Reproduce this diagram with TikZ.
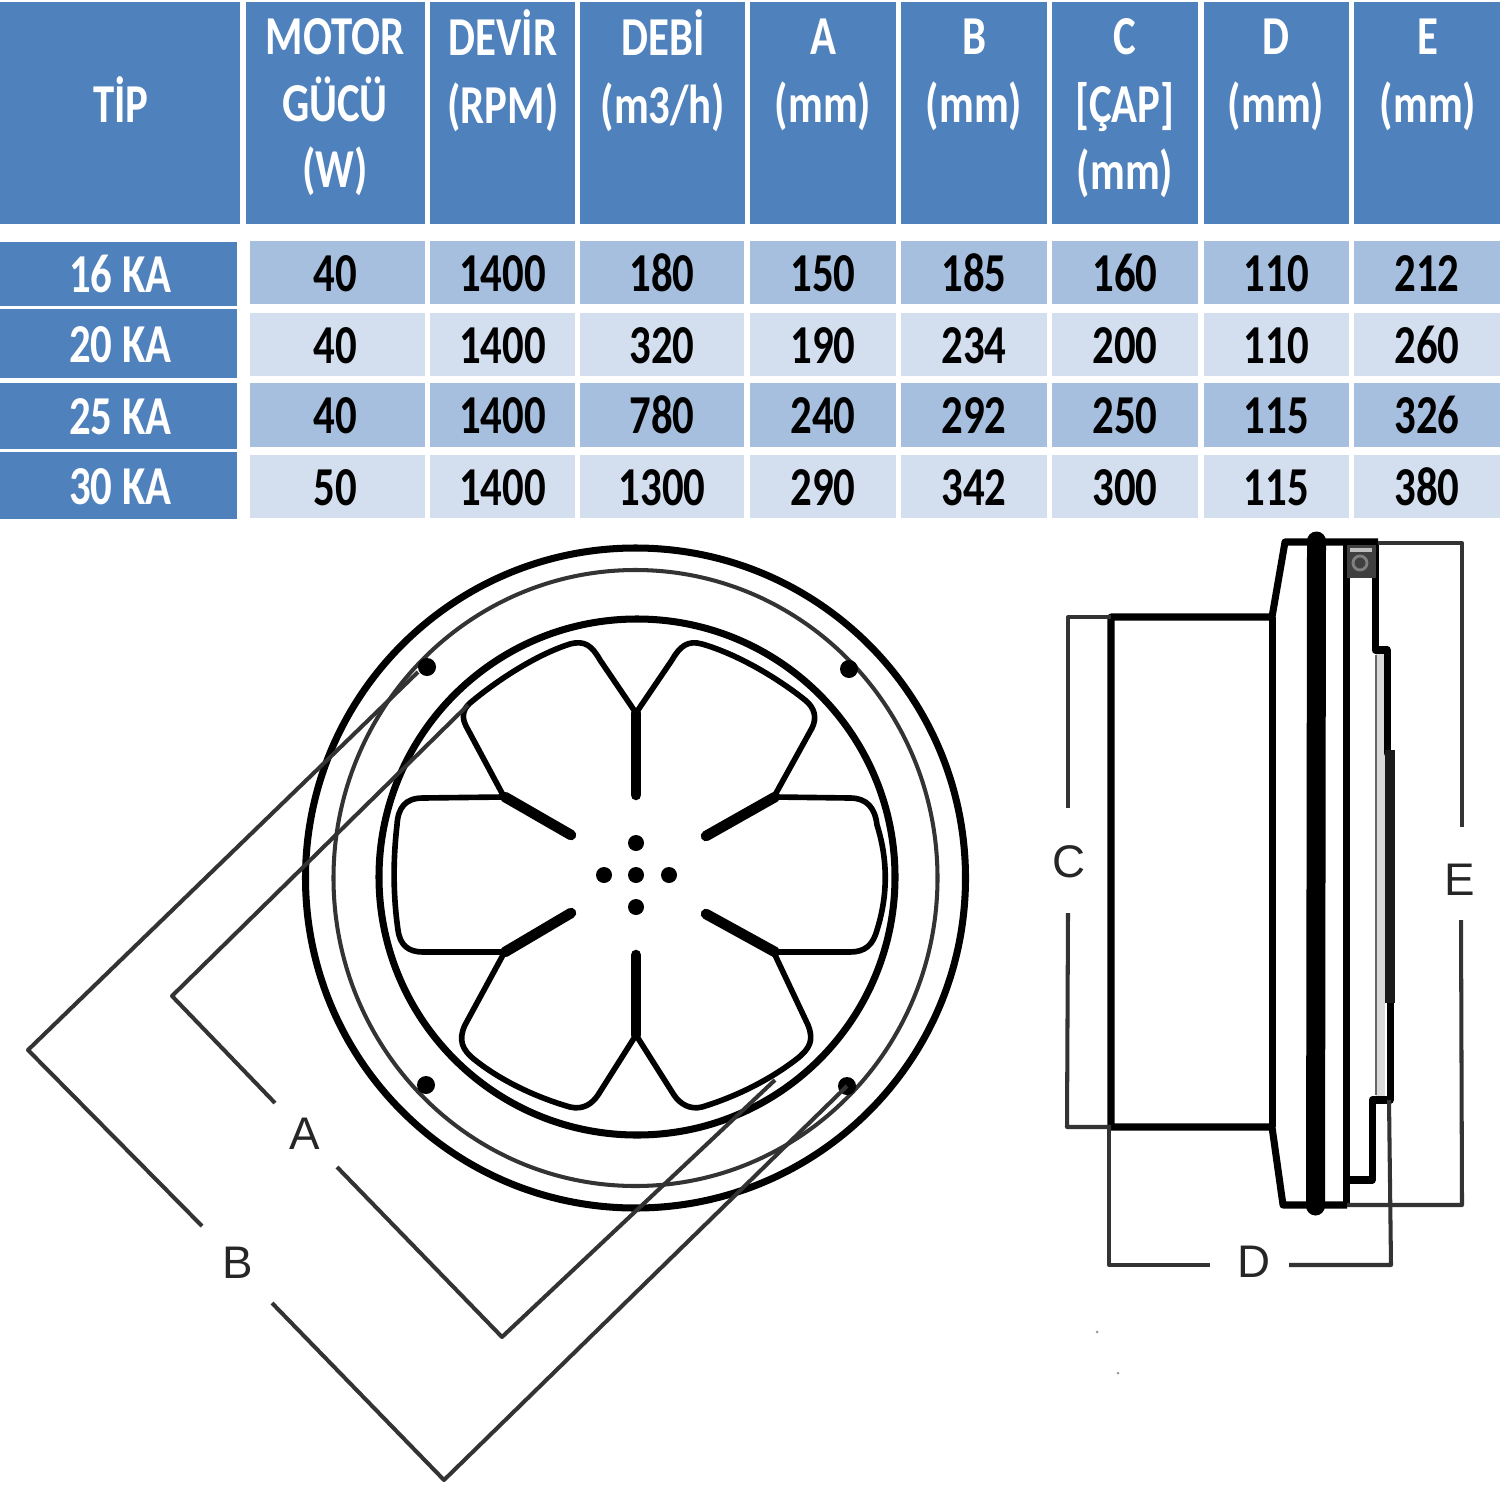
\documentclass[tikz,border=0pt]{standalone}
\usepackage{fontspec}
\newfontfamily\tablefont[FakeStretch=0.78]{Carlito}
\newfontfamily\dimfont{Liberation Sans}
\definecolor{headblue}{HTML}{4F81BD}
\definecolor{bandblue}{HTML}{A7BFDE}
\definecolor{paleblue}{HTML}{D3DFEE}
\tikzset{tabtext/.style={inner sep=0pt,align=center,font=\tablefont\bfseries\fontsize{15.6}{18.9}\selectfont}}
\tikzset{headtext/.style={tabtext,text=white,anchor=north}}
\tikzset{cellshift/.style={text height=10.6pt,text depth=0pt}}
\tikzset{rowname/.style={tabtext,cellshift,text=white,fill=headblue,minimum width=2.37cm,execute at begin node={\hspace*{1.1pt}}}}
\tikzset{band/.style={tabtext,cellshift,text=black,fill=bandblue,minimum height=0.63cm}}
\tikzset{pale/.style={tabtext,cellshift,text=black,fill=paleblue,minimum height=0.63cm}}
\tikzset{wattcell/.style={minimum width=1.75cm,execute at end node={\hspace*{1.4pt}}}}
\tikzset{thickline/.style={line width=2pt,black}}
\tikzset{petal/.style={line width=1.6pt,black,line join=round}}
\tikzset{stem/.style={line width=3pt,black,line cap=round}}
\tikzset{dimline/.style={line width=1.15pt,black!80,line join=round}}
\tikzset{dimtext/.style={inner sep=0pt,text=black!85,font=\dimfont\fontsize{13}{13}\selectfont}}
\begin{document}
\begin{tikzpicture}[x=0.01cm,y=-0.01cm]
        \useasboundingbox (0,0) rectangle (1500,1500);
        % draw the header of the table
        \foreach \xa/\xb in {0/240,246/425,430/575,580/745,750/896,901/1047,1052/1198,1204/1349,1354/1500}
            \fill[headblue] (\xa,2) rectangle (\xb,224);
        \node[headtext,anchor=center] (tip) at (121,100) {TİP};
        \node[headtext] (motor) at (335,18) {MOTOR\\GÜCÜ\\(W)};
        \node[headtext] (devir) at (503,9) {DEVİR\\[0.5pt](RPM)};
        \node[headtext] (debi) at (663,9) {DEBİ\\[0.5pt](m3/h)};
        \node[headtext] (heada) at (823,18) {A\\[0.5pt](mm)};
        \node[headtext] (headb) at (974,18) {B\\[0.5pt](mm)};
        \node[headtext] (headc) at (1125,18) {C\\[0.5pt]{[ÇAP]}\\(mm)};
        \node[headtext] (headd) at (1276,18) {D\\[0.5pt](mm)};
        \node[headtext] (heade) at (1428,18) {E\\[0.5pt](mm)};
        % first row
        \node[rowname,minimum height=0.64cm] (ka16) at (118.5,274) {16 KA};
        \node[band,wattcell] (w16) at (337.5,272.5) {40};
        \node[band,minimum width=1.45cm] (rpm16) at (502.5,272.5) {1400};
        \node[band,minimum width=1.64cm] (flow16) at (662,272.5) {180};
        \node[band,minimum width=1.46cm] (a16) at (823,272.5) {150};
        \node[band,minimum width=1.46cm] (b16) at (974,272.5) {185};
        \node[band,minimum width=1.46cm] (c16) at (1125,272.5) {160};
        \node[band,minimum width=1.45cm] (d16) at (1276.5,272.5) {110};
        \node[band,minimum width=1.46cm] (e16) at (1427,272.5) {212};
        % second row
        \node[rowname,minimum height=0.69cm] (ka20) at (118.5,343.5) {20 KA};
        \node[pale,wattcell] (w20) at (337.5,344.5) {40};
        \node[pale,minimum width=1.45cm] (rpm20) at (502.5,344.5) {1400};
        \node[pale,minimum width=1.64cm] (flow20) at (662,344.5) {320};
        \node[pale,minimum width=1.46cm] (a20) at (823,344.5) {190};
        \node[pale,minimum width=1.46cm] (b20) at (974,344.5) {234};
        \node[pale,minimum width=1.46cm] (c20) at (1125,344.5) {200};
        \node[pale,minimum width=1.45cm] (d20) at (1276.5,344.5) {110};
        \node[pale,minimum width=1.46cm] (e20) at (1427,344.5) {260};
        % third row
        \node[rowname,minimum height=0.66cm] (ka25) at (118.5,416) {25 KA};
        \node[band,wattcell] (w25) at (337.5,415) {40};
        \node[band,minimum width=1.45cm] (rpm25) at (502.5,415) {1400};
        \node[band,minimum width=1.64cm] (flow25) at (662,415) {780};
        \node[band,minimum width=1.46cm] (a25) at (823,415) {240};
        \node[band,minimum width=1.46cm] (b25) at (974,415) {292};
        \node[band,minimum width=1.46cm] (c25) at (1125,415) {250};
        \node[band,minimum width=1.45cm] (d25) at (1276.5,415) {115};
        \node[band,minimum width=1.46cm] (e25) at (1427,415) {326};
        % fourth row
        \node[rowname,minimum height=0.67cm] (ka30) at (118.5,485.5) {30 KA};
        \node[pale,wattcell] (w30) at (337.5,486.5) {50};
        \node[pale,minimum width=1.45cm] (rpm30) at (502.5,486.5) {1400};
        \node[pale,minimum width=1.64cm] (flow30) at (662,486.5) {1300};
        \node[pale,minimum width=1.46cm] (a30) at (823,486.5) {290};
        \node[pale,minimum width=1.46cm] (b30) at (974,486.5) {342};
        \node[pale,minimum width=1.46cm] (c30) at (1125,486.5) {300};
        \node[pale,minimum width=1.45cm] (d30) at (1276.5,486.5) {115};
        \node[pale,minimum width=1.46cm] (e30) at (1427,486.5) {380};
        % draw the rings of the front view
        \draw[thickline] (635.5,878) circle (330);
        \draw[dimline] (635.5,878) ellipse (302 and 308);
        \draw[thickline] (637,877) circle (258);
        % draw the screws
        \fill (427,667) circle (9);
        \fill (849,669) circle (9);
        \fill (426,1085) circle (9);
        \fill (847,1086) circle (9);
        % draw the petals
        \draw[petal] (636,713) -- (600,660) .. controls (592,646) and (585,640) .. (570,644) .. controls (535,655) and (495,682) .. (470,703) .. controls (462,710) and (462,718) .. (466,726) -- (503,795);
        \draw[petal] (503,797) -- (423,798) .. controls (405,798) and (398,808) .. (397,825) .. controls (393,860) and (393,895) .. (398,930) .. controls (400,945) and (408,952) .. (423,952) -- (503,952);
        \draw[petal] (503,955) -- (465,1025) .. controls (458,1040) and (462,1050) .. (475,1060) .. controls (500,1080) and (535,1097) .. (570,1107) .. controls (583,1110) and (592,1104) .. (598,1095) -- (636,1035);
        \draw[petal] (636,713) -- (672,660) .. controls (680,646) and (688,640) .. (702,644) .. controls (740,655) and (780,680) .. (805,700) .. controls (815,708) and (817,718) .. (812,728) -- (775,795);
        \draw[petal] (775,797) -- (850,798) .. controls (867,798) and (875,808) .. (877,825) .. controls (888,860) and (888,895) .. (877,930) .. controls (873,945) and (865,952) .. (850,952) -- (775,952);
        \draw[petal] (775,955) -- (808,1025) .. controls (814,1040) and (810,1048) .. (798,1058) .. controls (770,1080) and (735,1097) .. (702,1107) .. controls (690,1110) and (680,1104) .. (674,1095) -- (636,1035);
        % draw the thick stems
        \draw[stem] (636,713) -- (636,795);
        \draw[stem] (505,797) -- (571,835);
        \draw[stem] (505,952) -- (571,913);
        \draw[stem] (636,955) -- (636,1035);
        \draw[stem] (775,797) -- (706,836);
        \draw[stem] (775,952) -- (706,914);
        % draw the dots in the middle
        \foreach \px/\py in {636/843,636/875,636/907,604/875,669/875}
            \fill (\px,\py) circle (8);
        % draw the dimensions of the front view
        \node[dimtext] (laba) at (305,1134) {A};
        \node[dimtext] (labb) at (238,1263) {B};
        \coordinate (atop) at (468,705);
        \coordinate (aleft) at (172,996);
        \coordinate (acut) at (275,1103);
        \coordinate (acon) at (337,1167);
        \coordinate (alow) at (502,1337);
        \coordinate (aend) at (775,1080);
        \coordinate (btop) at (418,672);
        \coordinate (bleft) at (28,1050);
        \coordinate (bcut) at (202,1226);
        \coordinate (bcon) at (272,1303);
        \coordinate (blow) at (444,1480);
        \coordinate (bend) at (847,1086);
        \draw[dimline] (atop) -- (aleft) -- (acut);
        \draw[dimline] (acon) -- (alow) -- (aend);
        \draw[dimline] (btop) -- (bleft) -- (bcut);
        \draw[dimline] (bcon) -- (blow) -- (bend);
        % draw the side view
        \fill[black!15] (1376,652) rectangle (1385,1098);
        \draw[line width=0.8pt,black!60] (1376,655) -- (1376,1095);
        \draw[thickline,line join=round] (1111,1127) -- (1111,617) -- (1272,617) -- (1285,542) -- (1378,542);
        \draw[thickline,line join=round] (1111,1127) -- (1272,1127) -- (1283,1205) -- (1347,1205);
        \draw[thickline] (1272,617) -- (1272,1127);
        \draw[line width=5.4pt,black,line cap=round] (1316.5,541) -- (1315.5,1206);
        \draw[thickline] (1346,542) -- (1346,1205);
        \draw[thickline,line join=round] (1375,542) -- (1375,650) -- (1387,650) -- (1387,753) -- (1390,753);
        \draw[thickline,line join=round] (1346,1180) -- (1372,1180) -- (1372,1100) -- (1390,1100) -- (1390,1000);
        \draw[line width=3pt,black!90] (1390,750) -- (1390,1003);
        % draw the small clip at the top
        \fill[black!75] (1347,545) rectangle (1376,578);
        \fill[black!25] (1350,548) rectangle (1372,552);
        \draw[black!50,line width=0.8pt] (1360,563) circle (7);
        \fill[black!40] (1097,1332) circle (1.5);
        \fill[black!40] (1118,1373) circle (1.5);
        % draw the dimensions of the side view
        \node[dimtext] (labc) at (1069,862) {C};
        \node[dimtext] (labe) at (1460,880) {E};
        \node[dimtext] (labd) at (1254,1262) {D};
        \coordinate (ctop) at (1068,808);
        \coordinate (cup) at (1068,617);
        \coordinate (cin) at (1111,617);
        \coordinate (clow) at (1068,913);
        \coordinate (cdn) at (1067,1127);
        \coordinate (cout) at (1111,1127);
        \coordinate (etop) at (1462,827);
        \coordinate (eup) at (1462,543);
        \coordinate (ein) at (1378,543);
        \coordinate (elow) at (1461,920);
        \coordinate (edn) at (1462,1205);
        \coordinate (eout) at (1347,1205);
        \coordinate (dleft) at (1109,1127);
        \coordinate (dlow) at (1109,1265);
        \coordinate (dcut) at (1210,1265);
        \coordinate (dcon) at (1289,1265);
        \coordinate (dright) at (1391,1265);
        \coordinate (dtop) at (1389,1100);
        \draw[dimline] (ctop) -- (cup) -- (cin);
        \draw[dimline] (clow) -- (cdn) -- (cout);
        \draw[dimline] (etop) -- (eup) -- (ein);
        \draw[dimline] (elow) -- (edn) -- (eout);
        \draw[dimline] (dleft) -- (dlow) -- (dcut);
        \draw[dimline] (dcon) -- (dright) -- (dtop);
    \end{tikzpicture}
\end{document}
